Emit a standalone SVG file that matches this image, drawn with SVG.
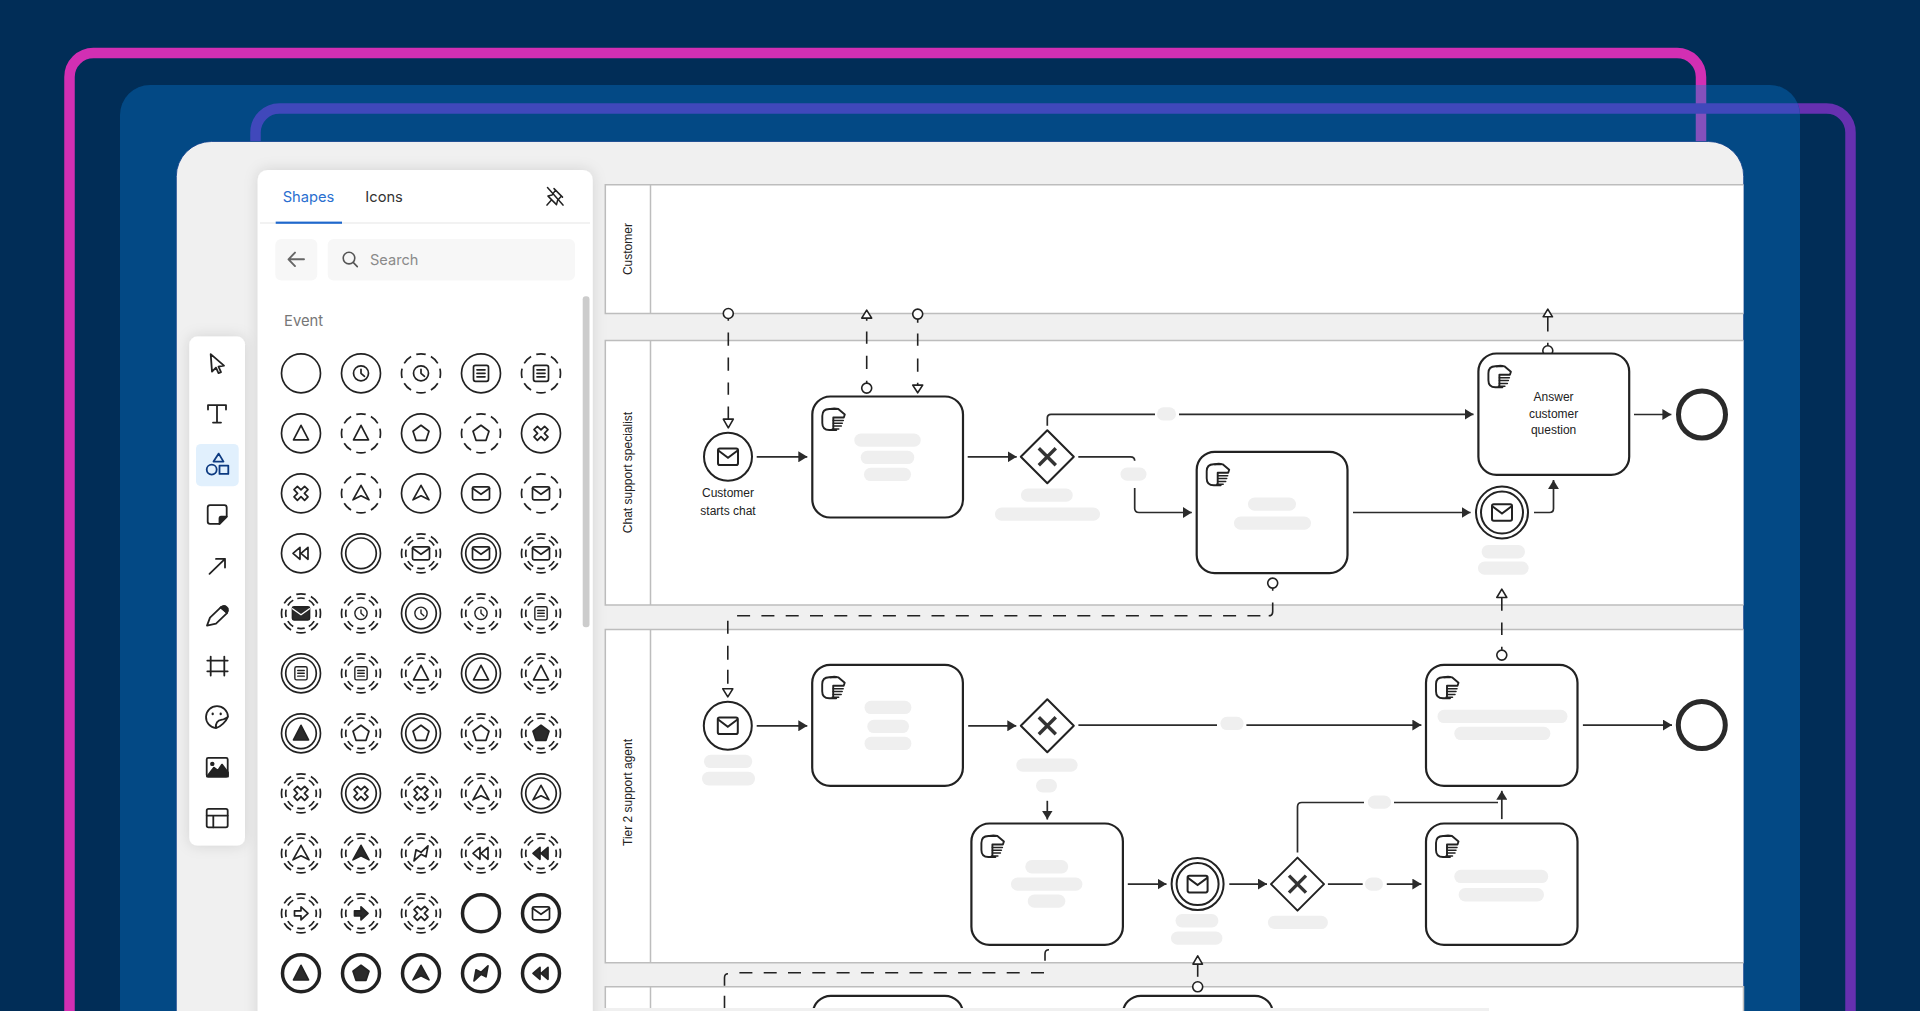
<svg xmlns="http://www.w3.org/2000/svg" width="1920" height="1011" viewBox="0 0 1920 1011">
<style>
.ic{fill:none;stroke:#222;stroke-width:1.7;stroke-linejoin:round;stroke-linecap:round}
.ic .f,.f{fill:#2a2a2a}
.s{transform:scale(.82)}
.lane{fill:#fff;stroke:#bdbdbd;stroke-width:1.5}
.div{stroke:#bdbdbd;stroke-width:1.5}
.task{fill:#fff;stroke:#222;stroke-width:2.2}
.ev{fill:#fff;stroke:#222;stroke-width:2}
.end{fill:#fff;stroke:#2a2a2a;stroke-width:5}
.gw{fill:#fff;stroke:#222;stroke-width:2;stroke-linejoin:round}
.gx{fill:none;stroke:#333;stroke-width:3.4}
.pill{fill:#efefef}
.flow{fill:none;stroke:#2b2b2b;stroke-width:1.7;marker-end:url(#ah)}
.plain{fill:none;stroke:#2b2b2b;stroke-width:1.7}
.msg{fill:none;stroke:#222;stroke-width:1.6}
.dash{fill:none;stroke:#222;stroke-width:1.6;stroke-dasharray:13 11.3}
.mo{fill:#fff;stroke:#222;stroke-width:1.6;stroke-linejoin:round}
.t{font-family:"Liberation Sans",Arial,sans-serif;font-size:12px;fill:#222;text-anchor:middle}
.ui{font-family:Inter,"Noto Sans",sans-serif}
.tool{fill:none;stroke:#222;stroke-width:1.8;stroke-linejoin:round;stroke-linecap:round}
</style>
<defs>
<filter id="sh" x="-20%" y="-20%" width="140%" height="140%"><feDropShadow dx="0" dy="0" stdDeviation="7" flood-color="#000" flood-opacity=".13"/></filter>
<clipPath id="pc"><rect x="120" y="85" width="1680" height="1000" rx="30"/></clipPath>
<marker id="ah" viewBox="0 0 9 11" refX="9" refY="5.5" markerWidth="9" markerHeight="11" markerUnits="userSpaceOnUse" orient="auto"><path d="M0,0 L9,5.5 L0,11Z" fill="#2b2b2b"/></marker>
<circle id="r1" r="19.5"/>
<circle id="r2" r="19.5" pathLength="120" stroke-dasharray="9.5 5.5" stroke-dashoffset="4.75" stroke-linecap="butt"/>
<g id="r3"><circle r="19.5"/><circle r="15.3"/></g>
<g id="r4" stroke-linecap="butt"><circle r="19.5" pathLength="120" stroke-dasharray="9.5 5.5" stroke-dashoffset="4.75"/><circle r="15.3" pathLength="120" stroke-dasharray="9.5 5.5" stroke-dashoffset="4.75"/></g>
<circle id="r5" r="18.5" stroke-width="3.5"/>
<g id="clock"><circle r="7.5"/><path d="M0,-4 V0 L3.5,3"/></g>
<g id="doc"><rect x="-7.5" y="-8" width="15" height="16" rx="2"/><path d="M-4,-3.5 H4 M-4,0 H4 M-4,3.5 H4"/></g>
<path id="tri" d="M0,-8 L7.5,6.5 H-7.5 Z"/>
<path id="pent" d="M0,-8 L8,-2 L5,7 H-5 L-8,-2 Z"/>
<path id="cross" transform="rotate(45)" d="M-2.4,-7.5 H2.4 V-2.4 H7.5 V2.4 H2.4 V7.5 H-2.4 V2.4 H-7.5 V-2.4 H-2.4 Z"/>
<path id="nav" d="M0,-8 L8,6.5 L0,2.5 L-8,6.5 Z"/>
<g id="mail"><rect x="-8.5" y="-6.5" width="17" height="13" rx="1.5"/><path d="M-8.5,-5 L0,1 L8.5,-5"/></g>
<g id="mailf"><rect class="f" x="-8.5" y="-6.5" width="17" height="13" rx="1.5"/><path d="M-8.5,-4.5 L0,1.5 L8.5,-4.5" style="stroke:#fff;stroke-width:1.4"/></g>
<path id="rew" d="M-1,-6 L-8,0 L-1,6 Z M7,-6 L0,0 L7,6 Z"/>
<path id="bolt" d="M-7,7.5 L-5,-3.5 L0,-1 L7,-7.5 L5,3.5 L0,1 Z"/>
<path id="arr" d="M-6.5,-2.5 H0 V-6.5 L7,0 L0,6.5 V2.5 H-6.5 Z"/>
<g id="hand" fill="none" stroke="#222" stroke-linejoin="round" stroke-linecap="round"><path stroke-width="1.9" d="M3,-10.5 H-4 Q-11,-10.5 -11,-3.5 V3.5 Q-11,10.5 -4,10.5 H3"/><path stroke-width="1.9" d="M-3,-10.5 Q1,-11.5 5,-10.5 L11.5,-5 L10.5,-2 H0 V9"/><path stroke-width="1.5" d="M0,1 H10 M0,3.8 H9 M0,6.6 H8 M-1,9.5 H5.5"/></g>
<g id="mailev" fill="none" stroke="#222" stroke-width="2"><rect x="-10" y="-8.3" width="20" height="16.6" rx="1.8"/><path d="M-10,-6.5 L0,1 L10,-6.5"/></g>
<path id="xg" class="gx" d="M-8.5,-8.5 L8.5,8.5 M8.5,-8.5 L-8.5,8.5"/>
</defs>

<rect width="1920" height="1011" fill="#012d57"/>
<rect x="69.5" y="53" width="1631.5" height="1100" rx="24" fill="none" stroke="#d22fb3" stroke-width="10.5"/>
<rect x="255.5" y="108.5" width="1595" height="1000" rx="24" fill="none" stroke="#6630b0" stroke-width="10.5"/>
<rect x="120" y="85" width="1680" height="1000" rx="30" fill="#034985"/>
<g clip-path="url(#pc)">
<rect x="69.5" y="53" width="1631.5" height="1100" rx="24" fill="none" stroke="#8450bc" stroke-width="10.5"/>
<rect x="255.5" y="108.5" width="1595" height="1000" rx="24" fill="none" stroke="#4048bb" stroke-width="10.5"/>
</g>
<rect x="176.3" y="141.5" width="1567.4" height="1000" rx="35" fill="#f0f0f0" stroke="#0c3f8c" stroke-width=".8"/>

<g transform="translate(0,.8)">
<g id="lanes">
<path class="lane" d="M1743.5,184 H605.3 V312.7 H1743.5"/><path class="div" d="M650.5,184 V312.7"/>
<path class="lane" d="M1743.5,339.7 H605.3 V604.3 H1743.5"/><path class="div" d="M650.5,339.7 V604.3"/>
<path class="lane" d="M1743.5,628.7 H605.3 V962 H1743.5"/><path class="div" d="M650.5,628.7 V962"/>
<path class="lane" d="M605.3,1020 V986 H1743.5 V1020 Z"/><path class="div" d="M650.5,986 V1012"/>
<text class="t" transform="translate(632,248.3) rotate(-90)">Customer</text>
<text class="t" transform="translate(632,471.7) rotate(-90)">Chat support specialist</text>
<text class="t" transform="translate(632,791.7) rotate(-90)">Tier 2 support agent</text>
</g>

<g id="connectors">
<path class="flow" d="M756.7,456 H807.3"/>
<path class="flow" d="M967.7,456 H1016.7"/>
<path class="plain" d="M1047.3,425 V417.3 Q1047.3,413.5 1051,413.5 H1155"/>
<path class="flow" d="M1179,413.5 H1473.5"/>
<path class="plain" d="M1078.3,456 H1130.5 Q1134.7,456 1134.7,460"/>
<path class="flow" d="M1134.7,487.3 V507.5 Q1134.7,511.7 1139,511.7 H1191.8"/>
<path class="flow" d="M1353,511.7 H1470.6"/>
<path class="flow" d="M1534,511.7 H1549.5 Q1553.5,511.7 1553.5,507.7 V479.3"/>
<path class="flow" d="M1634,413.7 H1671.4"/>
<path class="flow" d="M756.7,725 H807.3"/>
<path class="flow" d="M968.2,725 H1016.3"/>
<path class="plain" d="M1078.4,724.3 H1217"/>
<path class="flow" d="M1246.4,724.3 H1421.4"/>
<path class="flow" d="M1582.9,724.3 H1672"/>
<path class="flow" d="M1047.3,800 V818.7"/>
<path class="flow" d="M1127.8,883.3 H1166.5"/>
<path class="flow" d="M1229.3,883.3 H1267"/>
<path class="plain" d="M1327.9,883.3 H1362.7"/>
<path class="flow" d="M1386.8,883.3 H1421.4"/>
<path class="plain" d="M1297.5,851.7 V806 Q1297.5,801.7 1301.8,801.7 H1364"/>
<path class="plain" d="M1394,801.7 H1498"/>
<path class="flow" d="M1501.8,818.3 V790"/>

<path class="msg" d="M728.3,317.7 V320 M728.3,331.7 V345 M728.3,356.7 V370 M728.3,381.7 V394 M728.3,405.7 V418.3"/>
<circle class="mo" cx="728.3" cy="312.7" r="5"/><path class="mo" d="M723.3,418.3 H733.3 L728.3,427Z"/>
<path class="msg" d="M866.7,317.3 V320 M866.7,330.7 V343 M866.7,355 V368.3 M866.7,380 V383.3"/>
<path class="mo" d="M866.7,309.3 L871.7,317.3 H861.7Z"/><circle class="mo" cx="866.7" cy="387.3" r="5"/>
<path class="msg" d="M917.7,318 V322 M917.7,332.7 V345 M917.7,357.7 V371 M917.7,382 V385"/>
<circle class="mo" cx="917.7" cy="313.3" r="5"/><path class="mo" d="M912.7,384.3 H922.7 L917.7,392Z"/>
<path class="msg" d="M1547.8,345 V342 M1547.8,330.7 V316"/>
<path class="mo" d="M1547.8,308.3 L1552.5,316 H1543.1Z"/><circle class="mo" cx="1547.8" cy="350" r="5"/>
<path class="msg" d="M1272.7,587 V590 M1272.7,601.7 V611 Q1272.7,615 1268.7,615"/>
<circle class="mo" cx="1272.7" cy="582.3" r="5"/>
<path class="dash" d="M1260.4,615 H736.7"/>
<path class="msg" d="M727.8,620 V633 M727.8,645 V659 M727.8,669 V683"/>
<path class="mo" d="M722.8,688 H732.8 L727.8,696Z"/>
<path class="msg" d="M1501.8,596.7 V610 M1501.8,621.7 V634.3 M1501.8,646 V649"/>
<path class="mo" d="M1501.8,588.3 L1506.8,596.7 H1496.8Z"/><circle class="mo" cx="1501.8" cy="654.3" r="5"/>
<path class="msg" d="M1045,960 V953 Q1045,949 1049,949"/>
<path class="dash" d="M1044,972 H738.8"/>
<path class="msg" d="M724.5,985 V977 Q724.5,973 728,973 M724.5,995 V1008"/>
<path class="msg" d="M1197.7,963.3 V976"/>
<path class="mo" d="M1197.7,955 L1202.5,963.3 H1192.9Z"/><circle class="mo" cx="1197.7" cy="986" r="5"/>
</g>

<g id="ev-start-1"><circle class="ev" cx="728" cy="456" r="24"/><use href="#mailev" x="728" y="456"/><text class="t" x="728" y="496.7">Customer</text><text class="t" x="728" y="514">starts chat</text></g>
<g id="task-a"><rect class="task" x="812.3" y="395.7" width="150.7" height="121" rx="18"/><use href="#hand" x="833.3" y="418.7"/><rect class="pill" x="854.3" y="432.7" width="66.4" height="13.3" rx="6.6"/><rect class="pill" x="860.7" y="450" width="53.6" height="13.3" rx="6.6"/><rect class="pill" x="864" y="467" width="47" height="13.3" rx="6.6"/></g>
<g id="gw-1"><path class="gw" d="M1047.3,429.5 L1073.8,456 L1047.3,482.5 L1020.8,456Z"/><use href="#xg" x="1047.3" y="456"/><rect class="pill" x="1021" y="487.7" width="51.7" height="13.3" rx="6.6"/><rect class="pill" x="995" y="506.7" width="105" height="13.3" rx="6.6"/></g>
<rect class="pill" x="1157" y="406.5" width="19" height="13.3" rx="6.6"/>
<rect class="pill" x="1120.5" y="466.7" width="26" height="13.3" rx="6.6"/>
<g id="task-b"><rect class="task" x="1196.7" y="451" width="150.8" height="121.3" rx="18"/><use href="#hand" x="1217.7" y="474"/><rect class="pill" x="1248" y="496.7" width="48" height="13.3" rx="6.6"/><rect class="pill" x="1234" y="515.7" width="77" height="13.3" rx="6.6"/></g>
<g id="ev-int-1"><circle class="ev" cx="1502" cy="511.7" r="26"/><circle class="ev" cx="1502" cy="511.7" r="21"/><use href="#mailev" x="1502" y="511.7"/><rect class="pill" x="1481.6" y="544.3" width="43.4" height="13.3" rx="6.6"/><rect class="pill" x="1478" y="560.7" width="50.6" height="13.3" rx="6.6"/></g>
<g id="task-d"><rect class="task" x="1478.4" y="352.7" width="150.8" height="121.3" rx="18"/><use href="#hand" x="1499.4" y="376"/><text class="t" x="1553.6" y="400">Answer</text><text class="t" x="1553.6" y="417">customer</text><text class="t" x="1553.6" y="433.5">question</text></g>
<circle id="end-1" class="end" cx="1702" cy="413.7" r="23.5"/>

<g id="ev-start-2"><circle class="ev" cx="727.8" cy="725" r="24"/><use href="#mailev" x="727.8" y="725"/><rect class="pill" x="704" y="754" width="48.2" height="13.3" rx="6.6"/><rect class="pill" x="702" y="771" width="53" height="13.6" rx="6.6"/></g>
<g id="task-e"><rect class="task" x="812.2" y="664" width="150.7" height="121" rx="18"/><use href="#hand" x="833.2" y="687"/><rect class="pill" x="864.5" y="700" width="46.9" height="13.3" rx="6.6"/><rect class="pill" x="867.3" y="719" width="41.7" height="13.3" rx="6.6"/><rect class="pill" x="864.5" y="736" width="46.9" height="13.3" rx="6.6"/></g>
<g id="gw-2"><path class="gw" d="M1047.3,698.5 L1073.8,725 L1047.3,751.5 L1020.8,725Z"/><use href="#xg" x="1047.3" y="725"/><rect class="pill" x="1016.3" y="757.7" width="61.3" height="13.3" rx="6.6"/><rect class="pill" x="1036" y="778.3" width="21" height="13.3" rx="6.6"/></g>
<rect class="pill" x="1220.4" y="716" width="23.2" height="13.3" rx="6.6"/>
<g id="task-f"><rect class="task" x="1426" y="664" width="151.5" height="121" rx="18"/><use href="#hand" x="1447" y="687"/><rect class="pill" x="1437.5" y="709" width="130" height="13.3" rx="6.6"/><rect class="pill" x="1454.3" y="726" width="96.1" height="13.3" rx="6.6"/></g>
<circle id="end-2" class="end" cx="1701.8" cy="724.3" r="23.5"/>
<g id="task-g"><rect class="task" x="971.4" y="822.7" width="151.5" height="121.3" rx="18"/><use href="#hand" x="992.4" y="845.7"/><rect class="pill" x="1025.3" y="859.3" width="42.9" height="13.3" rx="6.6"/><rect class="pill" x="1011" y="876.7" width="71.4" height="13.3" rx="6.6"/><rect class="pill" x="1027.8" y="893.7" width="37.5" height="13.3" rx="6.6"/></g>
<g id="ev-int-2"><circle class="ev" cx="1197.6" cy="883.3" r="26"/><circle class="ev" cx="1197.6" cy="883.3" r="21"/><use href="#mailev" x="1197.6" y="883.3"/><rect class="pill" x="1175.5" y="913.3" width="42.9" height="13.3" rx="6.6"/><rect class="pill" x="1171" y="930.7" width="51.4" height="13.3" rx="6.6"/></g>
<g id="gw-3"><path class="gw" d="M1297.5,856.8 L1324,883.3 L1297.5,909.8 L1271,883.3Z"/><use href="#xg" x="1297.5" y="883.3"/><rect class="pill" x="1267.9" y="915" width="60" height="13.3" rx="6.6"/></g>
<rect class="pill" x="1365" y="876.7" width="17.9" height="13.3" rx="6.6"/>
<rect class="pill" x="1367.9" y="794.7" width="23.1" height="13.3" rx="6.6"/>
<g id="task-h"><rect class="task" x="1426" y="822.7" width="151.5" height="121.3" rx="18"/><use href="#hand" x="1447" y="845.7"/><rect class="pill" x="1454.3" y="869" width="93.9" height="13.3" rx="6.6"/><rect class="pill" x="1458.6" y="887.3" width="85.4" height="13.3" rx="6.6"/></g>
<g id="task-i"><rect class="task" x="812.9" y="995" width="150" height="121" rx="18"/></g>
<g id="task-j"><rect class="task" x="1122.9" y="995" width="150" height="121" rx="18"/></g>
</g>
<rect x="592" y="1008" width="897" height="3" fill="#f0f0f0"/>

<g transform="translate(0,.6)">
<g id="shapes-panel">
<rect x="257.7" y="169.3" width="335" height="900" rx="10" fill="#fff" filter="url(#sh)"/>
<text class="ui" x="282.7" y="201.5" font-size="14.7" fill="#2a6fd0">Shapes</text>
<text class="ui" x="365.3" y="201.5" font-size="14.7" fill="#333">Icons</text>
<path d="M260,222.3 H590" stroke="#eee" stroke-width="1.5"/>
<rect x="275.7" y="221" width="66.3" height="2.2" fill="#1f68cc"/>
<g class="tool" style="stroke-width:1.5"><path d="M547.5,187 L563,204.5"/><path d="M554,188 L562.5,196.5 M555.5,189.5 L552,194.5 L548,195.5 L556.5,204 L557.5,200 L561,196 M551,200 L547,204.5"/></g>
<rect x="275.3" y="238.3" width="42" height="41.7" rx="6" fill="#f7f7f7"/>
<path d="M304,258.7 H289 M295,252 L288.5,258.7 L295,265.5" fill="none" stroke="#666" stroke-width="1.9" stroke-linecap="round" stroke-linejoin="round"/>
<rect x="327.7" y="238.3" width="247.3" height="41.7" rx="6" fill="#f7f7f7"/>
<circle cx="349" cy="257.5" r="5.8" fill="none" stroke="#555" stroke-width="1.6"/><path d="M353.2,261.8 L357.3,266" stroke="#555" stroke-width="1.6" stroke-linecap="round"/>
<text class="ui" x="370" y="264" font-size="14.6" fill="#8a8a8a">Search</text>
<text class="ui" x="284" y="325.5" font-size="14.8" fill="#777">Event</text>
<rect x="582.7" y="295.7" width="6.8" height="331" rx="3" fill="#ccc"/>
</g>

<g id="event-grid" class="ic">
<g transform="translate(301,372.7)"><use href="#r1"/></g>
<g transform="translate(361,372.7)"><use href="#r1"/><use href="#clock"/></g>
<g transform="translate(421,372.7)"><use href="#r2"/><use href="#clock"/></g>
<g transform="translate(481,372.7)"><use href="#r1"/><use href="#doc"/></g>
<g transform="translate(541,372.7)"><use href="#r2"/><use href="#doc"/></g>

<g transform="translate(301,432.7)"><use href="#r1"/><use href="#tri"/></g>
<g transform="translate(361,432.7)"><use href="#r2"/><use href="#tri"/></g>
<g transform="translate(421,432.7)"><use href="#r1"/><use href="#pent"/></g>
<g transform="translate(481,432.7)"><use href="#r2"/><use href="#pent"/></g>
<g transform="translate(541,432.7)"><use href="#r1"/><use href="#cross"/></g>

<g transform="translate(301,492.7)"><use href="#r1"/><use href="#cross"/></g>
<g transform="translate(361,492.7)"><use href="#r2"/><use href="#nav"/></g>
<g transform="translate(421,492.7)"><use href="#r1"/><use href="#nav"/></g>
<g transform="translate(481,492.7)"><use href="#r1"/><use href="#mail"/></g>
<g transform="translate(541,492.7)"><use href="#r2"/><use href="#mail"/></g>

<g transform="translate(301,552.7)"><use href="#r1"/><use href="#rew"/></g>
<g transform="translate(361,552.7)"><use href="#r3"/></g>
<g transform="translate(421,552.7)"><use href="#r4"/><use href="#mail"/></g>
<g transform="translate(481,552.7)"><use href="#r3"/><use href="#mail"/></g>
<g transform="translate(541,552.7)"><use href="#r4"/><use href="#mail"/></g>

<g transform="translate(301,612.7)"><use href="#r4"/><use href="#mailf"/></g>
<g transform="translate(361,612.7)"><use href="#r4"/><use href="#clock" class="s"/></g>
<g transform="translate(421,612.7)"><use href="#r3"/><use href="#clock" class="s"/></g>
<g transform="translate(481,612.7)"><use href="#r4"/><use href="#clock" class="s"/></g>
<g transform="translate(541,612.7)"><use href="#r4"/><use href="#doc" class="s"/></g>

<g transform="translate(301,672.7)"><use href="#r3"/><use href="#doc" class="s"/></g>
<g transform="translate(361,672.7)"><use href="#r4"/><use href="#doc" class="s"/></g>
<g transform="translate(421,672.7)"><use href="#r4"/><use href="#tri"/></g>
<g transform="translate(481,672.7)"><use href="#r3"/><use href="#tri"/></g>
<g transform="translate(541,672.7)"><use href="#r4"/><use href="#tri"/></g>

<g transform="translate(301,732.7)"><use href="#r3"/><use href="#tri" class="f"/></g>
<g transform="translate(361,732.7)"><use href="#r4"/><use href="#pent"/></g>
<g transform="translate(421,732.7)"><use href="#r3"/><use href="#pent"/></g>
<g transform="translate(481,732.7)"><use href="#r4"/><use href="#pent"/></g>
<g transform="translate(541,732.7)"><use href="#r4"/><use href="#pent" class="f"/></g>

<g transform="translate(301,792.7)"><use href="#r4"/><use href="#cross"/></g>
<g transform="translate(361,792.7)"><use href="#r3"/><use href="#cross"/></g>
<g transform="translate(421,792.7)"><use href="#r4"/><use href="#cross"/></g>
<g transform="translate(481,792.7)"><use href="#r4"/><use href="#nav"/></g>
<g transform="translate(541,792.7)"><use href="#r3"/><use href="#nav"/></g>

<g transform="translate(301,852.7)"><use href="#r4"/><use href="#nav"/></g>
<g transform="translate(361,852.7)"><use href="#r4"/><use href="#nav" class="f"/></g>
<g transform="translate(421,852.7)"><use href="#r4"/><use href="#bolt"/></g>
<g transform="translate(481,852.7)"><use href="#r4"/><use href="#rew"/></g>
<g transform="translate(541,852.7)"><use href="#r4"/><use href="#rew" class="f"/></g>

<g transform="translate(301,912.7)"><use href="#r4"/><use href="#arr"/></g>
<g transform="translate(361,912.7)"><use href="#r4"/><use href="#arr" class="f"/></g>
<g transform="translate(421,912.7)"><use href="#r4"/><use href="#cross"/></g>
<g transform="translate(481,912.7)"><use href="#r5"/></g>
<g transform="translate(541,912.7)"><use href="#r5"/><use href="#mail"/></g>

<g transform="translate(301,972.7)"><use href="#r5"/><use href="#tri" class="f"/></g>
<g transform="translate(361,972.7)"><use href="#r5"/><use href="#pent" class="f"/></g>
<g transform="translate(421,972.7)"><use href="#r5"/><use href="#nav" class="f"/></g>
<g transform="translate(481,972.7)"><use href="#r5"/><use href="#bolt" class="f"/></g>
<g transform="translate(541,972.7)"><use href="#r5"/><use href="#rew" class="f"/></g>
</g>

<g id="toolbar">
<rect x="189.3" y="336" width="55.7" height="509" rx="8" fill="#fff" filter="url(#sh)"/>
<rect x="196" y="443.3" width="42.7" height="42.4" rx="5" fill="#e1f0fd"/>
<g class="tool">
<path d="M210.7,353.5 L224,365 L218.5,366 L221,371.5 L218.5,372.5 L216,367 L212,371 Z"/>
<path d="M208,409 V404.5 H226 V409 M217,404.5 V422 M213,422 H221"/>
<path d="M218.7,453 L223.5,461 H213.5 Z M219.5,465 H228.3 V473.3 H219.5 Z" style="stroke:#0d3a80"/><circle cx="211.7" cy="469" r="5" style="stroke:#0d3a80"/>
<path d="M210,504.5 H224.5 Q226.7,504.5 226.7,507 V516 L219.5,523.3 H210 Q207.7,523.3 207.7,521 V507 Q207.7,504.5 210,504.5 Z"/><path d="M226.7,516 H221 Q219.5,516 219.5,518 V523.3Z" style="fill:#222"/>
<path d="M209.5,573.3 L225,558.3 M216,558.3 H225 V567"/>
<path d="M207,625 L210,617 L221,606.5 L227,612.5 L216,623 Z"/><path d="M220.5,607 L223,605.5 Q225,605 226.5,606.5 L227.8,608 Q228.5,610 227,612 Z" style="fill:#222"/>
<path d="M210.7,656 V675 M224.3,656 V675 M207.3,660 H227.7 M207.3,670.7 H227.7"/>
<path d="M228,716 A11,11 0 1 0 216,727.5 C221,726 226,721 228,716 Z M216,727.5 Q215,720 222,719 Q224,719 228,716"/><path d="M212.7,713 V713.6 M220.7,713 V713.6" stroke-width="2.2"/>
<rect x="206.7" y="757.3" width="21" height="18.7" rx="1.5"/><circle cx="212.3" cy="763.3" r="1.3" style="fill:#222"/><path d="M207,776 L214,767 L218,770 L222,764 L228,772 V776 Z" style="fill:#222"/>
<rect x="206.7" y="808.3" width="21" height="18.4" rx="1.8"/><path d="M206.7,815 H227.7 M213.3,815 V826.7"/>
</g>
</g>
</g>
</svg>
